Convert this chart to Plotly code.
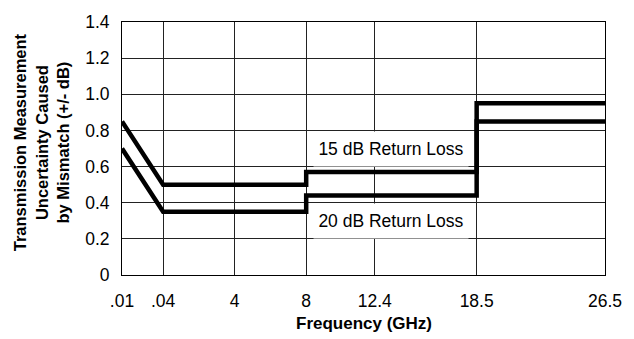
import numpy as np
import plotly.graph_objects as go

# Frequency tick labels (GHz) and their values
tick_labels = [".01", ".04", "4", "8", "12.4", "18.5", "26.5"]
tick_freqs = [0.01, 0.04, 4.0, 8.0, 12.4, 18.5, 26.5]

# Series: uncertainty (+/- dB) vs frequency (GHz)
freq_15dB = [0.01, 0.04, 8.0, 8.0, 18.5, 18.5, 26.5]
unc_15dB = [0.85, 0.50, 0.50, 0.57, 0.57, 0.95, 0.95]

freq_20dB = [0.01, 0.04, 8.0, 8.0, 18.5, 18.5, 26.5]
unc_20dB = [0.70, 0.35, 0.35, 0.44, 0.44, 0.85, 0.85]

y_ticks = [0, 0.2, 0.4, 0.6, 0.8, 1.0, 1.2, 1.4]
y_labels = ["0", "0.2", "0.4", "0.6", "0.8", "1.0", "1.2", "1.4"]

# Piecewise axis scale (non-uniform frequency axis as drawn in the original)
axis_pos = [0, 42, 115, 188, 258, 362, 493]


def fscale(f):
    return np.interp(f, tick_freqs, axis_pos)


FONT = "Liberation Sans, Arial, sans-serif"

fig = go.Figure()
for fx, fy in [(freq_15dB, unc_15dB), (freq_20dB, unc_20dB)]:
    fig.add_trace(go.Scatter(
        x=fscale(fx), y=fy, mode="lines",
        line=dict(color="black", width=4.5),
        showlegend=False, cliponaxis=False,
    ))

fig.update_layout(
    width=634, height=339,
    margin=dict(l=122, r=19, t=15, b=64),
    paper_bgcolor="white", plot_bgcolor="white",
    font=dict(family=FONT, size=17.5, color="black"),
    xaxis=dict(
        range=[0, 493], tickmode="array", tickvals=fscale(tick_freqs),
        ticktext=tick_labels, showgrid=True, gridcolor="#222", gridwidth=1,
        showline=True, linecolor="black", linewidth=1, mirror=True,
        zeroline=False, ticks="", ticklabelstandoff=10,
    ),
    yaxis=dict(
        range=[0, 1.4], tickmode="array", tickvals=y_ticks, ticktext=y_labels,
        showgrid=True, gridcolor="#222", gridwidth=1,
        showline=True, linecolor="black", linewidth=1, mirror=True,
        zeroline=False, ticks="", ticklabelstandoff=8,
    ),
)

for text, yv in [("15 dB Return Loss", 0.70), ("20 dB Return Loss", 0.30)]:
    fig.add_annotation(
        x=fscale(12.4) + 17, y=yv, xref="x", yref="y", text=text,
        showarrow=False, bgcolor="white", borderpad=0, width=154, height=34,
        font=dict(family=FONT, size=17.5, color="black"),
    )

fig.add_annotation(
    x=0.5, y=-0.192, xref="paper", yref="paper", xanchor="center", yanchor="middle",
    text="<b>Frequency (GHz)</b>", showarrow=False,
    font=dict(family=FONT, size=17, color="black"),
)
fig.add_annotation(
    x=-0.165, y=0.526, xref="paper", yref="paper", xanchor="center", yanchor="middle",
    text="<b>Transmission Measurement<br>Uncertainty Caused<br>by Mismatch (+/- dB)</b>",
    showarrow=False, textangle=-90,
    font=dict(family=FONT, size=16.5, color="black"),
)

fig.write_html("out.html")
